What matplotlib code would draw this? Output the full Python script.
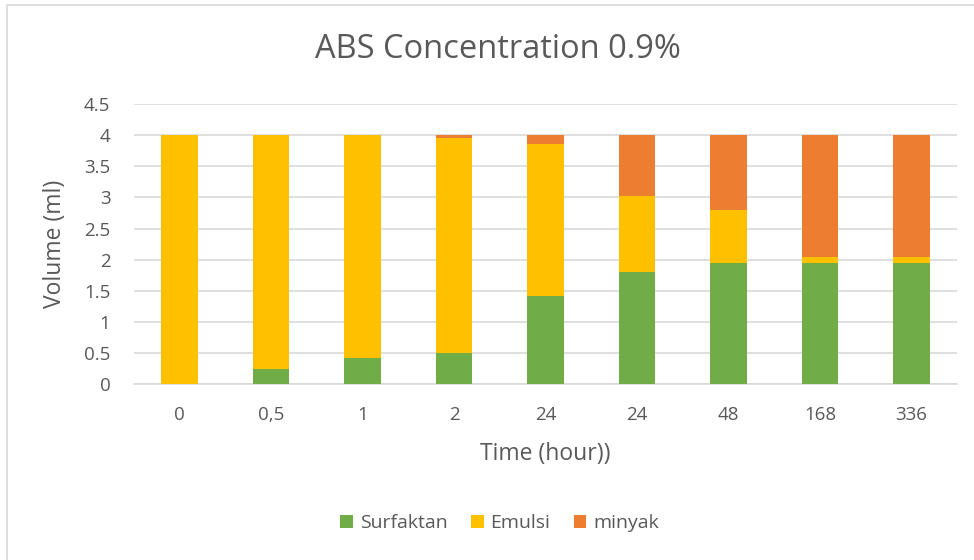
import matplotlib
matplotlib.use("Agg")
import matplotlib.pyplot as plt
from matplotlib.patches import Rectangle
import numpy as np

categories = ["0", "0,5", "1", "2", "24", "24", "48", "168", "336"]
surfaktan = [0.0, 0.24, 0.42, 0.5, 1.42, 1.8, 1.95, 1.95, 1.95]
emulsi = [4.0, 3.76, 3.58, 3.45, 2.44, 1.22, 0.85, 0.1, 0.1]
minyak = [0.0, 0.0, 0.0, 0.05, 0.14, 0.98, 1.2, 1.95, 1.95]

plt.rcParams['font.family'] = ['Open Sans', 'DejaVu Sans']
txt = '#595959'
grid = '#d9d9d9'

fig = plt.figure(figsize=(9.74, 5.6), dpi=100)
ax = fig.add_axes([0.1376, 0.3143, 0.845, 0.4997])
x = np.arange(len(categories))
w = 0.4
s = np.array(surfaktan); e = np.array(emulsi); m = np.array(minyak)
ax.bar(x, s, w, color='#70ad47', label='Surfaktan', zorder=3)
ax.bar(x, e, w, bottom=s, color='#ffc000', label='Emulsi', zorder=3)
ax.bar(x, m, w, bottom=s + e, color='#ed7d31', label='minyak', zorder=3)

ax.set_xlim(-0.5, len(categories) - 0.5)
ax.set_ylim(0, 4.5)
ax.set_yticks(np.arange(0, 4.51, 0.5))
ax.set_yticklabels(['0', '0.5', '1', '1.5', '2', '2.5', '3', '3.5', '4', '4.5'])
ax.set_xticks(x)
ax.set_xticklabels(categories)
ax.yaxis.grid(True, color=grid, linewidth=1.2, zorder=0)
ax.set_axisbelow(True)
for sp in ['top', 'right', 'left']:
    ax.spines[sp].set_visible(False)
ax.spines['bottom'].set_color(grid)
ax.spines['bottom'].set_linewidth(1.2)
ax.tick_params(axis='both', length=0, labelsize=13.5, colors=txt)
ax.tick_params(axis='x', pad=16)
ax.tick_params(axis='y', pad=17)
ax.set_xlabel('Time (hour))', fontsize=16.5, color=txt, labelpad=13)
ax.set_ylabel('Volume (ml)', fontsize=16.5, color=txt, labelpad=12)
fig.text(0.511, 0.911, 'ABS Concentration 0.9%', ha='center', va='center', fontsize=23.5, color=txt)

handles, labels = ax.get_legend_handles_labels()
fig.legend(handles, labels, loc='center', bbox_to_anchor=(0.513, 0.066), ncol=3, frameon=False,
           fontsize=14, labelcolor=txt, handlelength=0.65, handleheight=0.65, handletextpad=0.35,
           columnspacing=1.2)

fig.patches.append(Rectangle((7 / 974, -0.01), 1.02, 1 - 5 / 560 + 0.01, transform=fig.transFigure,
                             fill=False, edgecolor=grid, linewidth=1.2, clip_on=False))
fig.savefig('out.png', dpi=100)
